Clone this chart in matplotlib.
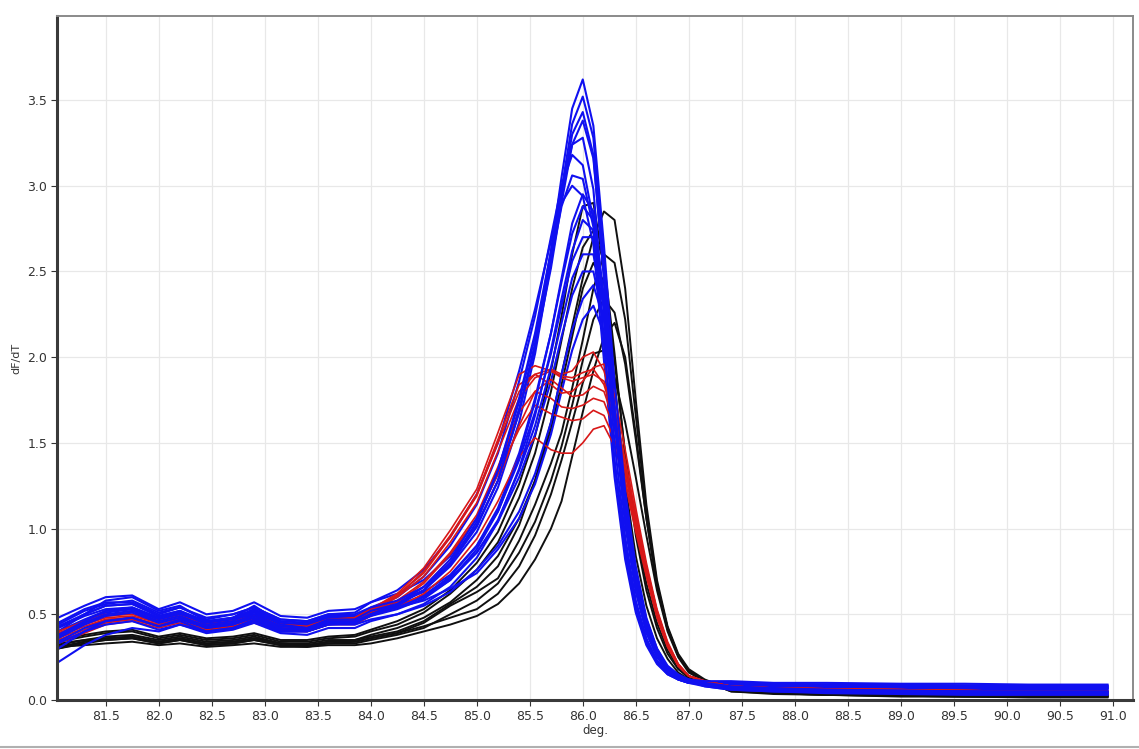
import matplotlib
matplotlib.use('Agg')
import matplotlib.pyplot as plt
from matplotlib.lines import Line2D

# temperature grid (deg.) shared by every trace
temps = [81.05, 81.3, 81.5, 81.75, 82.0, 82.2, 82.45, 82.7, 82.9, 83.15, 83.4, 83.6, 83.85, 84.0,
         84.25, 84.5, 84.75, 85.0, 85.2, 85.4, 85.55, 85.7, 85.8, 85.9, 86.0, 86.1, 86.2, 86.3,
         86.4, 86.5, 86.6, 86.7, 86.8, 86.9, 87.0, 87.15, 87.4, 87.8, 88.3, 89.0, 89.6, 90.2, 90.95]

# dF/dT traces
black_traces = [
    [0.32, 0.35, 0.37, 0.38, 0.35, 0.37, 0.34, 0.35, 0.37, 0.33, 0.33, 0.35, 0.35, 0.37,
     0.40, 0.46, 0.56, 0.66, 0.78, 1.02, 1.28, 1.62, 1.90, 2.18, 2.46, 2.70, 2.85, 2.80,
     2.40, 1.75, 1.14, 0.70, 0.43, 0.27, 0.18, 0.12, 0.06, 0.04, 0.03, 0.025, 0.02, 0.02, 0.02],
    [0.30, 0.33, 0.35, 0.36, 0.33, 0.35, 0.32, 0.33, 0.35, 0.32, 0.31, 0.33, 0.34, 0.36,
     0.39, 0.45, 0.55, 0.63, 0.71, 0.93, 1.14, 1.38, 1.56, 1.82, 2.10, 2.40, 2.60, 2.55,
     2.22, 1.66, 1.10, 0.68, 0.42, 0.26, 0.17, 0.11, 0.06, 0.04, 0.035, 0.03, 0.025, 0.02, 0.02],
    [0.31, 0.32, 0.33, 0.34, 0.32, 0.33, 0.31, 0.32, 0.33, 0.31, 0.31, 0.32, 0.32, 0.33,
     0.36, 0.40, 0.44, 0.49, 0.56, 0.68, 0.82, 1.00, 1.16, 1.42, 1.68, 1.92, 2.12, 2.20,
     2.00, 1.55, 1.06, 0.66, 0.41, 0.26, 0.17, 0.11, 0.05, 0.035, 0.03, 0.02, 0.02, 0.015, 0.015],
    [0.33, 0.35, 0.36, 0.37, 0.34, 0.36, 0.33, 0.34, 0.36, 0.33, 0.32, 0.34, 0.34, 0.36,
     0.39, 0.43, 0.48, 0.53, 0.62, 0.78, 0.96, 1.20, 1.40, 1.62, 1.85, 2.02, 2.04, 1.88,
     1.62, 1.30, 0.96, 0.64, 0.40, 0.25, 0.16, 0.11, 0.06, 0.045, 0.04, 0.03, 0.03, 0.025, 0.025],
    [0.34, 0.37, 0.39, 0.40, 0.36, 0.38, 0.35, 0.36, 0.38, 0.34, 0.34, 0.36, 0.37, 0.40,
     0.44, 0.51, 0.62, 0.76, 0.92, 1.18, 1.44, 1.80, 2.10, 2.40, 2.64, 2.74, 2.56, 2.02,
     1.42, 0.96, 0.64, 0.42, 0.27, 0.18, 0.13, 0.10, 0.07, 0.05, 0.04, 0.035, 0.03, 0.03, 0.03],
    [0.30, 0.34, 0.36, 0.37, 0.34, 0.36, 0.33, 0.34, 0.36, 0.33, 0.32, 0.34, 0.35, 0.38,
     0.42, 0.48, 0.57, 0.70, 0.84, 1.06, 1.28, 1.58, 1.84, 2.12, 2.40, 2.55, 2.44, 1.98,
     1.44, 1.00, 0.68, 0.45, 0.29, 0.19, 0.13, 0.10, 0.06, 0.045, 0.04, 0.03, 0.03, 0.025, 0.025],
    [0.31, 0.34, 0.35, 0.36, 0.33, 0.35, 0.32, 0.33, 0.35, 0.32, 0.32, 0.33, 0.33, 0.35,
     0.38, 0.42, 0.50, 0.58, 0.68, 0.86, 1.04, 1.28, 1.48, 1.72, 1.98, 2.22, 2.34, 2.26,
     1.96, 1.52, 1.06, 0.67, 0.42, 0.26, 0.17, 0.11, 0.05, 0.04, 0.03, 0.025, 0.02, 0.02, 0.02],
    [0.35, 0.38, 0.40, 0.41, 0.37, 0.39, 0.36, 0.37, 0.39, 0.35, 0.35, 0.37, 0.38, 0.41,
     0.46, 0.53, 0.64, 0.80, 0.98, 1.26, 1.54, 1.92, 2.24, 2.60, 2.88, 2.90, 2.52, 1.86,
     1.26, 0.84, 0.55, 0.36, 0.24, 0.16, 0.12, 0.10, 0.07, 0.055, 0.045, 0.04, 0.035, 0.035, 0.035],
]

red_traces = [
    [0.36, 0.42, 0.47, 0.48, 0.44, 0.47, 0.42, 0.44, 0.47, 0.42, 0.42, 0.46, 0.48, 0.53,
     0.62, 0.77, 0.99, 1.23, 1.56, 1.90, 1.95, 1.92, 1.88, 1.86, 1.88, 1.90, 1.86, 1.68,
     1.38, 1.08, 0.78, 0.52, 0.33, 0.21, 0.14, 0.11, 0.08, 0.07, 0.065, 0.06, 0.055, 0.05, 0.05],
    [0.40, 0.46, 0.50, 0.51, 0.46, 0.49, 0.44, 0.46, 0.49, 0.44, 0.43, 0.47, 0.48, 0.53,
     0.61, 0.74, 0.95, 1.19, 1.50, 1.80, 1.90, 1.93, 1.90, 1.92, 2.00, 2.03, 1.92, 1.70,
     1.40, 1.08, 0.78, 0.52, 0.33, 0.21, 0.14, 0.11, 0.08, 0.07, 0.065, 0.06, 0.055, 0.05, 0.05],
    [0.34, 0.40, 0.45, 0.47, 0.43, 0.46, 0.41, 0.43, 0.46, 0.41, 0.40, 0.44, 0.46, 0.51,
     0.60, 0.72, 0.92, 1.15, 1.45, 1.76, 1.88, 1.92, 1.89, 1.88, 1.91, 1.93, 1.84, 1.64,
     1.34, 1.04, 0.75, 0.50, 0.32, 0.20, 0.14, 0.11, 0.07, 0.06, 0.055, 0.05, 0.045, 0.045, 0.045],
    [0.38, 0.44, 0.48, 0.49, 0.45, 0.48, 0.43, 0.45, 0.48, 0.43, 0.42, 0.46, 0.46, 0.50,
     0.56, 0.66, 0.82, 1.02, 1.28, 1.60, 1.80, 1.87, 1.82, 1.77, 1.78, 1.83, 1.80, 1.62,
     1.34, 1.04, 0.75, 0.50, 0.32, 0.20, 0.14, 0.11, 0.08, 0.07, 0.065, 0.06, 0.055, 0.05, 0.05],
    [0.35, 0.41, 0.46, 0.47, 0.43, 0.46, 0.41, 0.43, 0.46, 0.41, 0.40, 0.44, 0.44, 0.49,
     0.57, 0.68, 0.85, 1.06, 1.32, 1.58, 1.72, 1.67, 1.65, 1.63, 1.64, 1.69, 1.66, 1.52,
     1.28, 1.00, 0.73, 0.49, 0.31, 0.20, 0.14, 0.11, 0.07, 0.06, 0.055, 0.05, 0.045, 0.045, 0.045],
    [0.37, 0.43, 0.47, 0.48, 0.44, 0.47, 0.42, 0.44, 0.47, 0.42, 0.41, 0.45, 0.45, 0.49,
     0.54, 0.62, 0.75, 0.94, 1.16, 1.42, 1.53, 1.46, 1.44, 1.44, 1.50, 1.58, 1.60, 1.48,
     1.26, 0.98, 0.72, 0.48, 0.31, 0.20, 0.14, 0.11, 0.08, 0.07, 0.065, 0.06, 0.055, 0.05, 0.05],
    [0.39, 0.45, 0.49, 0.50, 0.45, 0.48, 0.43, 0.45, 0.49, 0.43, 0.42, 0.46, 0.47, 0.51,
     0.58, 0.69, 0.86, 1.08, 1.36, 1.68, 1.80, 1.76, 1.71, 1.70, 1.72, 1.76, 1.74, 1.58,
     1.32, 1.02, 0.74, 0.49, 0.32, 0.20, 0.14, 0.11, 0.08, 0.07, 0.065, 0.06, 0.055, 0.05, 0.05],
    [0.33, 0.39, 0.44, 0.46, 0.42, 0.45, 0.40, 0.42, 0.45, 0.40, 0.40, 0.44, 0.46, 0.52,
     0.61, 0.75, 0.96, 1.20, 1.52, 1.84, 1.90, 1.84, 1.79, 1.80, 1.86, 1.94, 1.96, 1.78,
     1.46, 1.12, 0.80, 0.53, 0.34, 0.21, 0.14, 0.11, 0.07, 0.06, 0.055, 0.05, 0.045, 0.045, 0.045],
]

blue_traces = [
    [0.44, 0.52, 0.56, 0.58, 0.51, 0.54, 0.48, 0.50, 0.54, 0.47, 0.46, 0.50, 0.50, 0.54,
     0.58, 0.66, 0.80, 1.02, 1.28, 1.68, 2.08, 2.62, 3.05, 3.45, 3.62, 3.35, 2.65, 1.85,
     1.22, 0.78, 0.48, 0.30, 0.20, 0.15, 0.12, 0.11, 0.11, 0.10, 0.10, 0.095, 0.095, 0.09, 0.09],
    [0.40, 0.50, 0.58, 0.60, 0.52, 0.55, 0.46, 0.48, 0.55, 0.45, 0.44, 0.49, 0.48, 0.53,
     0.57, 0.64, 0.78, 0.98, 1.24, 1.62, 2.02, 2.55, 2.98, 3.36, 3.52, 3.28, 2.55, 1.72,
     1.10, 0.68, 0.42, 0.27, 0.18, 0.14, 0.12, 0.10, 0.09, 0.08, 0.075, 0.07, 0.07, 0.065, 0.065],
    [0.38, 0.46, 0.52, 0.54, 0.48, 0.51, 0.44, 0.46, 0.52, 0.44, 0.42, 0.47, 0.47, 0.52,
     0.56, 0.64, 0.79, 1.01, 1.28, 1.68, 2.06, 2.55, 2.94, 3.30, 3.43, 3.18, 2.45, 1.62,
     1.02, 0.63, 0.39, 0.25, 0.17, 0.13, 0.11, 0.10, 0.08, 0.07, 0.06, 0.055, 0.05, 0.05, 0.05],
    [0.48, 0.55, 0.60, 0.61, 0.53, 0.57, 0.50, 0.52, 0.57, 0.49, 0.48, 0.52, 0.53, 0.57,
     0.62, 0.70, 0.84, 1.06, 1.32, 1.70, 2.06, 2.52, 2.90, 3.24, 3.38, 3.16, 2.48, 1.70,
     1.10, 0.69, 0.42, 0.27, 0.18, 0.13, 0.11, 0.10, 0.10, 0.09, 0.085, 0.08, 0.08, 0.08, 0.08],
    [0.30, 0.40, 0.46, 0.48, 0.43, 0.47, 0.42, 0.44, 0.48, 0.41, 0.41, 0.45, 0.45, 0.50,
     0.55, 0.64, 0.80, 1.04, 1.34, 1.76, 2.14, 2.62, 2.98, 3.24, 3.28, 2.98, 2.25, 1.50,
     0.95, 0.58, 0.36, 0.23, 0.16, 0.12, 0.10, 0.09, 0.07, 0.06, 0.05, 0.045, 0.04, 0.04, 0.04],
    [0.42, 0.50, 0.55, 0.56, 0.49, 0.52, 0.45, 0.48, 0.52, 0.45, 0.44, 0.48, 0.48, 0.54,
     0.60, 0.72, 0.90, 1.14, 1.44, 1.86, 2.24, 2.70, 3.00, 3.18, 3.12, 2.80, 2.10, 1.38,
     0.86, 0.53, 0.33, 0.22, 0.15, 0.12, 0.10, 0.10, 0.09, 0.08, 0.075, 0.07, 0.07, 0.07, 0.07],
    [0.22, 0.32, 0.38, 0.42, 0.40, 0.44, 0.40, 0.42, 0.46, 0.40, 0.40, 0.44, 0.45, 0.50,
     0.56, 0.66, 0.82, 1.06, 1.34, 1.74, 2.12, 2.56, 2.88, 3.06, 3.04, 2.76, 2.08, 1.40,
     0.90, 0.56, 0.35, 0.23, 0.16, 0.12, 0.10, 0.08, 0.06, 0.05, 0.04, 0.035, 0.03, 0.03, 0.03],
    [0.45, 0.53, 0.57, 0.57, 0.50, 0.54, 0.47, 0.50, 0.54, 0.47, 0.46, 0.50, 0.51, 0.57,
     0.64, 0.76, 0.95, 1.20, 1.50, 1.92, 2.28, 2.68, 2.90, 3.00, 2.94, 2.66, 1.98, 1.30,
     0.82, 0.51, 0.32, 0.21, 0.15, 0.12, 0.10, 0.10, 0.10, 0.09, 0.09, 0.085, 0.085, 0.08, 0.08],
    [0.36, 0.44, 0.49, 0.51, 0.45, 0.48, 0.42, 0.44, 0.49, 0.42, 0.41, 0.45, 0.45, 0.49,
     0.53, 0.59, 0.70, 0.88, 1.10, 1.42, 1.74, 2.14, 2.46, 2.78, 2.95, 2.85, 2.35, 1.65,
     1.08, 0.68, 0.42, 0.27, 0.18, 0.13, 0.11, 0.09, 0.07, 0.06, 0.055, 0.05, 0.05, 0.045, 0.045],
    [0.40, 0.47, 0.52, 0.53, 0.47, 0.50, 0.44, 0.46, 0.51, 0.44, 0.43, 0.47, 0.47, 0.51,
     0.55, 0.61, 0.72, 0.90, 1.12, 1.44, 1.76, 2.14, 2.44, 2.72, 2.88, 2.80, 2.32, 1.64,
     1.07, 0.67, 0.42, 0.27, 0.18, 0.13, 0.11, 0.10, 0.085, 0.075, 0.07, 0.065, 0.06, 0.06, 0.06],
    [0.33, 0.40, 0.44, 0.46, 0.41, 0.44, 0.39, 0.41, 0.45, 0.39, 0.38, 0.42, 0.42, 0.46,
     0.50, 0.56, 0.66, 0.83, 1.04, 1.35, 1.66, 2.04, 2.34, 2.62, 2.80, 2.74, 2.30, 1.64,
     1.08, 0.68, 0.42, 0.27, 0.18, 0.13, 0.11, 0.08, 0.06, 0.05, 0.045, 0.04, 0.035, 0.035, 0.035],
    [0.43, 0.50, 0.55, 0.56, 0.49, 0.52, 0.46, 0.48, 0.53, 0.46, 0.45, 0.49, 0.49, 0.53,
     0.57, 0.63, 0.73, 0.90, 1.10, 1.40, 1.68, 2.02, 2.30, 2.56, 2.70, 2.70, 2.34, 1.70,
     1.12, 0.71, 0.44, 0.28, 0.18, 0.13, 0.11, 0.10, 0.095, 0.09, 0.085, 0.08, 0.08, 0.075, 0.075],
    [0.37, 0.45, 0.50, 0.52, 0.46, 0.49, 0.43, 0.45, 0.50, 0.43, 0.42, 0.46, 0.46, 0.50,
     0.54, 0.60, 0.70, 0.86, 1.05, 1.34, 1.60, 1.94, 2.20, 2.46, 2.60, 2.60, 2.28, 1.68,
     1.12, 0.71, 0.44, 0.28, 0.18, 0.13, 0.11, 0.09, 0.075, 0.065, 0.06, 0.055, 0.05, 0.05, 0.05],
    [0.38, 0.46, 0.51, 0.53, 0.47, 0.50, 0.44, 0.46, 0.50, 0.44, 0.43, 0.47, 0.47, 0.51,
     0.55, 0.61, 0.71, 0.86, 1.04, 1.30, 1.55, 1.86, 2.12, 2.36, 2.50, 2.50, 2.22, 1.66,
     1.12, 0.72, 0.45, 0.29, 0.19, 0.14, 0.11, 0.10, 0.09, 0.08, 0.08, 0.075, 0.07, 0.07, 0.07],
    [0.34, 0.42, 0.46, 0.48, 0.43, 0.46, 0.40, 0.42, 0.47, 0.40, 0.40, 0.44, 0.44, 0.47,
     0.50, 0.55, 0.63, 0.76, 0.90, 1.10, 1.32, 1.62, 1.90, 2.16, 2.34, 2.42, 2.22, 1.70,
     1.16, 0.75, 0.47, 0.30, 0.19, 0.14, 0.11, 0.09, 0.065, 0.055, 0.05, 0.045, 0.04, 0.04, 0.04],
    [0.42, 0.49, 0.53, 0.54, 0.48, 0.51, 0.45, 0.47, 0.52, 0.45, 0.44, 0.48, 0.48, 0.51,
     0.54, 0.58, 0.65, 0.74, 0.88, 1.06, 1.26, 1.55, 1.80, 2.04, 2.22, 2.30, 2.14, 1.66,
     1.14, 0.74, 0.46, 0.29, 0.19, 0.14, 0.11, 0.10, 0.10, 0.095, 0.09, 0.09, 0.085, 0.085, 0.085],
]

x_ticks = [81.5, 82.0, 82.5, 83.0, 83.5, 84.0, 84.5, 85.0, 85.5, 86.0, 86.5, 87.0,
           87.5, 88.0, 88.5, 89.0, 89.5, 90.0, 90.5, 91.0]
y_ticks = [0.0, 0.5, 1.0, 1.5, 2.0, 2.5, 3.0, 3.5]

fig = plt.figure(figsize=(11.39, 7.49), dpi=100)
ax = fig.add_axes([0.050, 0.0654, 0.9447, 0.9132])

# black under everything, red sandwiched between two halves of the blue set
for tr in black_traces:
    ax.plot(temps, tr, color='#101010', lw=1.4, solid_joinstyle='round')
for tr in blue_traces[1::2]:
    ax.plot(temps, tr, color='#1010f0', lw=1.5, solid_joinstyle='round')
for tr in red_traces:
    ax.plot(temps, tr, color='#d81818', lw=1.2, solid_joinstyle='round')
for tr in blue_traces[0::2]:
    ax.plot(temps, tr, color='#1010f0', lw=1.5, solid_joinstyle='round')

ax.set_xlim(81.04, 91.19)
ax.set_ylim(0, 3.99)
ax.set_xticks(x_ticks)
ax.set_xticklabels(['%.1f' % v for v in x_ticks])
ax.set_yticks(y_ticks)
ax.set_yticklabels(['%.1f' % v for v in y_ticks])
ax.grid(True, color='#e8e8e8', lw=0.9)
ax.set_axisbelow(True)
ax.tick_params(labelsize=9, colors='#333333', length=4, width=0.8, pad=3)

for side in ['left', 'bottom']:
    ax.spines[side].set_color('#3a3a3a')
    ax.spines[side].set_linewidth(2.2)
for side in ['top', 'right']:
    ax.spines[side].set_color('#8a8a8a')
    ax.spines[side].set_linewidth(1.4)

ax.set_xlabel('deg.', fontsize=8.5, color='#333333', labelpad=1)
ax.set_ylabel('dF/dT', fontsize=8, color='#333333', labelpad=4)

# thin frame line along the bottom edge of the picture
fig.add_artist(Line2D([0, 1], [0.003, 0.003], color='#b0b0b0', lw=1.5))

fig.savefig('out.png', dpi=100)
